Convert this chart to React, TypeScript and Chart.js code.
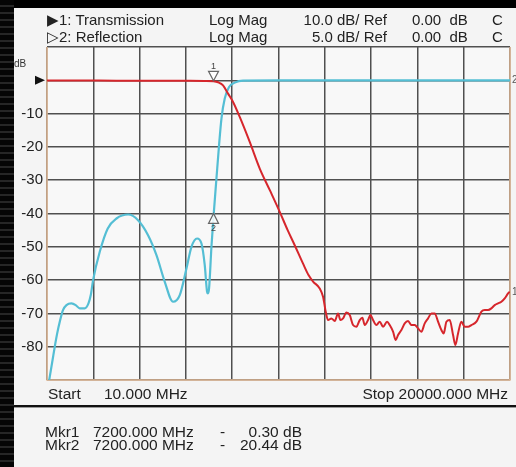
import React, { useEffect, useRef } from 'react';
import { Chart, registerables } from 'chart.js';

Chart.register(...registerables);

// ---- Sweep settings ----
const START_MHZ = 10;
const STOP_MHZ = 20000;
const MARKER_MHZ = 7200;
const MARKER1_DB = -0.3;
const MARKER2_DB = -20.44;

// ---- Trace 1: Transmission (10 dB/div, ref 0 dB) ----
const transFreq = [
  10, 1000, 2000, 3000, 4000, 5000, 6000, 6800, 7200, 7400, 7611, 7827, 8043, 8331, 8763, 9195, 9630,
  10058, 10400, 10710, 11060, 11300, 11506, 11785, 11929, 12044, 12145, 12289, 12433, 12577, 12677,
  12793, 12937, 13080, 13224, 13368, 13512, 13627, 13728, 13872, 13973, 14088, 14232, 14376, 14520,
  14692, 14807, 14951, 15066, 15167, 15311, 15455, 15599, 15743, 15887, 16030, 16174, 16318, 16462,
  16606, 16750, 16894, 17038, 17138, 17254, 17398, 17542, 17642, 17757, 17901, 18045, 18189, 18333,
  18549, 18765, 18908, 19052, 19196, 19340, 19484, 19628, 19772, 19916, 19990,
];
const transDb = [
  -0.05, -0.05, -0.08, -0.1, -0.1, -0.12, -0.15, -0.2, -0.3, -0.6, -1.5, -4, -6.5, -11, -18.5, -26.5, -33,
  -39.5, -45, -49.6, -55, -58.5, -60.5, -62.5, -65, -69.5, -72, -71.5, -72.3, -70, -72,
  -71.5, -69.7, -70.5, -73.5, -74, -72, -71.3, -73.5, -72, -70.5, -72, -73.5, -72.5, -74,
  -72.5, -73.5, -75.5, -78, -76.5, -75, -73, -72.3, -73.5, -73.5, -74.5, -75.5, -73, -71.5,
  -70, -70, -72.5, -75, -76, -72.5, -72, -76.5, -79.5, -76, -72.5, -74, -74, -73.5,
  -72.5, -69.5, -69, -69, -68.5, -67.5, -67, -66.5, -65.5, -64, -63.5,
];

// ---- Trace 2: Reflection (5 dB/div, ref 0 dB) ----
const reflFreq = [
  10, 130, 250, 345, 450, 561, 700, 850, 1066, 1250, 1425, 1640, 1800, 1900, 2000, 2288, 2633, 3009,
  3511, 3942, 4373, 4736, 5094, 5453, 5742, 6031, 6247, 6489, 6679, 6821, 6921, 6960, 7007, 7110, 7200,
  7326, 7438, 7542, 7684, 7870, 8116, 8476, 10000, 15000, 20000,
];
const reflDb = [
  -47, -44.5, -42, -40, -38, -36.25, -34.5, -33.75, -33.5, -33.75, -34.25, -34.25, -33.5, -32.25, -30,
  -25.75, -22.25, -20.75, -20.15, -21, -23.25, -26.25, -30.25, -33.25, -32.25, -28.25, -25, -23.75,
  -24.5, -27.75, -31.75, -32, -31.25, -25, -20.44, -14.75, -9.75, -5.75, -2.75, -1, -0.35, -0.05,
  -0.02, -0.02, -0.02,
];

// ---- Axis labels ----
const yTickLabels = [-10, -20, -30, -40, -50, -60, -70, -80];
const Y_MIN = -90;
const Y_MAX = 10;
const Y2_MIN = -45;
const Y2_MAX = 5;

const headerRows = [
  { label: '\u25B61: Transmission', format: 'Log Mag', scale: '10.0 dB/ Ref', ref: '0.00  dB', ch: 'C' },
  { label: '\u25B72: Reflection', format: 'Log Mag', scale: '5.0 dB/ Ref', ref: '0.00  dB', ch: 'C' },
];
const markerRows = [
  { name: 'Mkr1', freq: `${MARKER_MHZ.toFixed(3)} MHz`, value: `${Math.abs(MARKER1_DB).toFixed(2)} dB` },
  { name: 'Mkr2', freq: `${MARKER_MHZ.toFixed(3)} MHz`, value: `${Math.abs(MARKER2_DB).toFixed(2)} dB` },
];

const RED = 'rgb(214,38,44)';
const CYAN = 'rgb(84,190,212)';
const GRID = 'rgb(80,80,80)';
const TAN = 'rgb(228,186,150)';
const FONT = "'Liberation Sans', Arial, Helvetica, sans-serif";

const overlayPlugin = {
  id: 'vnaOverlay',
  beforeDraw(chart: any) {
    const { ctx, chartArea: a } = chart;
    ctx.save();
    ctx.fillStyle = '#f8f8f8';
    ctx.fillRect(a.left, a.top, a.right - a.left, a.bottom - a.top);
    ctx.restore();
  },
  beforeDatasetsDraw(chart: any) {
    const { ctx, chartArea: a } = chart;
    ctx.save();
    ctx.strokeStyle = TAN;
    ctx.lineWidth = 1.5;
    ctx.beginPath();
    ctx.moveTo(a.left, a.top);
    ctx.lineTo(a.left, a.bottom);
    ctx.lineTo(a.right, a.bottom);
    ctx.lineTo(a.right, a.top);
    ctx.stroke();
    ctx.restore();
  },
  afterDatasetsDraw(chart: any) {
    const { ctx, chartArea: a, scales } = chart;
    const x = scales.x, y = scales.y, y2 = scales.y2;
    ctx.save();
    // reference arrow at 0 dB
    const y0 = y.getPixelForValue(0);
    ctx.fillStyle = '#111';
    ctx.beginPath();
    ctx.moveTo(35, y0 - 4.5);
    ctx.lineTo(45, y0);
    ctx.lineTo(35, y0 + 4.5);
    ctx.closePath();
    ctx.fill();

    // marker 1 (down triangle on trace 1)
    const xm = x.getPixelForValue(MARKER_MHZ);
    const ym1 = y.getPixelForValue(MARKER1_DB);
    ctx.strokeStyle = '#666';
    ctx.fillStyle = 'rgba(255,255,255,0.85)';
    ctx.lineWidth = 1.2;
    ctx.beginPath();
    ctx.moveTo(xm, ym1 - 0.5);
    ctx.lineTo(xm - 5, ym1 - 10);
    ctx.lineTo(xm + 5, ym1 - 10);
    ctx.closePath();
    ctx.fill();
    ctx.stroke();
    ctx.fillStyle = '#444';
    ctx.font = `9px ${FONT}`;
    ctx.textAlign = 'center';
    ctx.textBaseline = 'middle';
    ctx.fillText('1', xm, ym1 - 15);

    // marker 2 (up triangle on trace 2)
    const ym2 = y2.getPixelForValue(MARKER2_DB);
    ctx.fillStyle = 'rgba(255,255,255,0.85)';
    ctx.beginPath();
    ctx.moveTo(xm, ym2 - 3);
    ctx.lineTo(xm - 5, ym2 + 7);
    ctx.lineTo(xm + 5, ym2 + 7);
    ctx.closePath();
    ctx.fill();
    ctx.stroke();
    ctx.fillStyle = '#444';
    ctx.fillText('2', xm, ym2 + 12);

    // trace end labels at right edge
    ctx.font = `10px ${FONT}`;
    ctx.textAlign = 'left';
    ctx.fillStyle = '#555';
    ctx.fillText('2', a.right + 2, y2.getPixelForValue(reflDb[reflDb.length - 1]));
    ctx.fillText('1', a.right + 2, y.getPixelForValue(transDb[transDb.length - 1]));
    ctx.restore();
  },
};

const txt = (left: number, top: number, s: string, extra: any = {}) => (
  <div
    style={{
      position: 'absolute',
      left,
      top,
      fontFamily: FONT,
      fontSize: 15,
      lineHeight: '16px',
      color: '#222',
      whiteSpace: 'pre',
      ...extra,
    }}
  >
    {s}
  </div>
);

export default function App() {
  const ref = useRef<HTMLCanvasElement>(null);
  useEffect(() => {
    const canvas = ref.current!;
    const chart = new Chart(canvas, {
      type: 'line',
      data: {
        datasets: [
          {
            label: 'Transmission',
            data: transFreq.map((f, i) => ({ x: f, y: transDb[i] })),
            borderColor: RED,
            borderWidth: 2,
            pointRadius: 0,
            yAxisID: 'y',
            cubicInterpolationMode: 'monotone',
          },
          {
            label: 'Reflection',
            data: reflFreq.map((f, i) => ({ x: f, y: reflDb[i] })),
            borderColor: CYAN,
            borderWidth: 2.2,
            pointRadius: 0,
            yAxisID: 'y2',
            cubicInterpolationMode: 'monotone',
          },
        ],
      },
      options: {
        animation: false,
        responsive: false,
        devicePixelRatio: 1,
        layout: { padding: { left: 0, right: 6, top: 47, bottom: 87 } },
        plugins: { legend: { display: false }, tooltip: { enabled: false } },
        scales: {
          x: {
            type: 'linear',
            min: START_MHZ,
            max: STOP_MHZ,
            afterBuildTicks: (s: any) => {
              s.ticks = Array.from({ length: 11 }, (_, i) => ({
                value: START_MHZ + (i * (STOP_MHZ - START_MHZ)) / 10,
              }));
            },
            ticks: { display: false },
            grid: { color: GRID, lineWidth: 1.5, drawTicks: false },
            border: { display: false },
            afterFit: (s: any) => {
              s.height = 0;
            },
          },
          y: {
            type: 'linear',
            min: Y_MIN,
            max: Y_MAX,
            afterBuildTicks: (s: any) => {
              const t = [];
              for (let v = Y_MIN; v <= Y_MAX; v += 10) t.push({ value: v });
              s.ticks = t;
            },
            ticks: {
              callback: (v: any) => (yTickLabels.includes(Number(v)) ? String(v) : ''),
              font: { family: FONT, size: 15 },
              color: '#222',
              padding: 4,
            },
            grid: { color: GRID, lineWidth: 1.5, drawTicks: false },
            border: { display: false },
            afterFit: (s: any) => {
              s.width = 47;
            },
          },
          y2: { type: 'linear', display: false, min: Y2_MIN, max: Y2_MAX },
        },
      },
      plugins: [overlayPlugin],
    } as any);
    return () => chart.destroy();
  }, []);

  return (
    <div style={{ position: 'absolute', left: 0, top: 0, width: 516, height: 467, background: '#000', overflow: 'hidden' }}>
      <div
        style={{
          position: 'absolute',
          left: 0,
          top: 0,
          width: 14,
          height: 467,
          background: 'repeating-linear-gradient(to bottom, #050505 0px, #050505 5px, #262626 5px, #262626 7px)',
        }}
      />
      <div style={{ position: 'absolute', left: 14, top: 8, width: 502, height: 459, background: '#f4f4f4' }} />
      <canvas ref={ref} width={516} height={467} style={{ position: 'absolute', left: 0, top: 0, width: 516, height: 467 }} />
      {headerRows.map((r, i) => (
        <React.Fragment key={i}>
          {txt(47, 12 + i * 17, r.label)}
          {txt(209, 12 + i * 17, r.format)}
          {txt(270, 12 + i * 17, r.scale, { width: 117, textAlign: 'right' })}
          {txt(412, 12 + i * 17, r.ref)}
          {txt(492, 12 + i * 17, r.ch)}
        </React.Fragment>
      ))}
      {txt(14, 56, 'dB', { fontSize: 10, color: '#333' })}
      {txt(48, 386, 'Start', { fontSize: 15.5 })}
      {txt(104, 386, `${START_MHZ.toFixed(3)} MHz`, { fontSize: 15.5 })}
      {txt(290, 386, `Stop ${STOP_MHZ.toFixed(3)} MHz`, { width: 218, textAlign: 'right', fontSize: 15.5 })}
      <div style={{ position: 'absolute', left: 14, top: 405, width: 502, height: 2, background: '#111' }} />
      <div style={{ position: 'absolute', left: 14, top: 407, width: 502, height: 1, background: '#999' }} />
      {markerRows.map((m, i) => (
        <React.Fragment key={m.name}>
          {txt(45, 424 + i * 13, m.name, { fontSize: 15.5 })}
          {txt(93, 424 + i * 13, m.freq, { fontSize: 15.5 })}
          {txt(220, 424 + i * 13, '-', { fontSize: 15.5 })}
          {txt(222, 424 + i * 13, m.value, { width: 80, textAlign: 'right', fontSize: 15.5 })}
        </React.Fragment>
      ))}
    </div>
  );
}
